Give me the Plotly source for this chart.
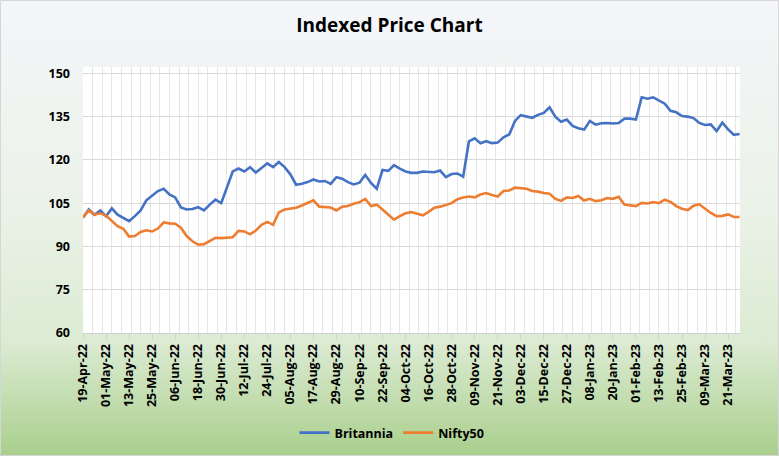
import base64
import pandas as pd
import plotly.graph_objects as go

# Day offsets from 19-Apr-22 (every 3 calendar days) -> dates
start = pd.Timestamp("2022-04-19")
day_offsets = list(range(0, 343, 3))
dates = [start + pd.Timedelta(days=d) for d in day_offsets]

britannia = [
    100.0, 102.8, 101.0, 102.5, 100.5, 103.2, 101.0, 100.0, 98.8, 100.5,
    102.5, 106.0, 107.5, 109.2, 110.0, 108.0, 107.0, 103.5, 102.8, 103.0,
    103.6, 102.5, 104.5, 106.2, 105.0, 110.5, 116.0, 117.0, 116.0, 117.5,
    115.6, 117.2, 118.8, 117.5, 119.3, 117.5, 115.0, 111.4, 111.7, 112.3,
    113.2, 112.5, 112.7, 111.7, 114.0, 113.5, 112.3, 111.5, 112.1, 114.8,
    112.0, 110.0, 116.5, 116.2, 118.2, 117.0, 116.0, 115.5, 115.5, 116.0,
    115.8, 115.7, 116.3, 114.0, 115.1, 115.3, 114.2, 126.4, 127.5, 125.8,
    126.5, 125.8, 126.0, 127.8, 128.8, 133.5, 135.5, 135.0, 134.6, 135.6,
    136.3, 138.2, 135.0, 133.2, 134.0, 131.8, 131.0, 130.5, 133.5, 132.2,
    132.7, 132.8, 132.6, 132.8, 134.3, 134.3, 134.0, 141.7, 141.2, 141.7,
    140.6, 139.5, 137.0, 136.5, 135.2, 135.0, 134.5, 132.8, 132.1, 132.3,
    130.0, 132.9, 130.6, 128.7, 129.0,
]

nifty50 = [
    100.0, 102.5, 101.0, 101.5, 100.7, 99.0, 97.0, 96.1, 93.4, 93.6,
    95.0, 95.6, 95.2, 96.2, 98.3, 98.0, 97.9, 96.5, 93.6, 91.8,
    90.6, 90.8, 92.0, 93.0, 92.9, 93.0, 93.2, 95.4, 95.2, 94.2,
    95.5, 97.5, 98.5, 97.5, 101.8, 102.8, 103.0, 103.4, 104.2, 105.0,
    106.0, 103.8, 103.6, 103.5, 102.5, 103.8, 104.0, 104.8, 105.3, 106.5,
    104.0, 104.5, 102.8, 101.2, 99.3, 100.5, 101.5, 101.9, 101.3, 100.8,
    102.0, 103.4, 103.8, 104.5, 105.0, 106.4, 107.0, 107.3, 107.0, 108.0,
    108.5, 107.8, 107.3, 109.2, 109.4, 110.4, 110.2, 110.0, 109.2, 109.0,
    108.5, 108.3, 106.5, 105.8, 107.0, 106.8, 107.5, 105.9, 106.5, 105.7,
    106.0, 106.8, 106.5, 107.2, 104.5, 104.3, 104.0, 105.1, 104.9, 105.4,
    105.0, 106.2, 105.4, 104.0, 103.1, 102.6, 104.1, 104.6, 103.1, 101.6,
    100.5, 100.6, 101.1, 100.2, 100.2,
]

y_ticks = [60, 75, 90, 105, 120, 135, 150]

W, H = 779, 456
ML, MR, MT, MB = 83, 39, 67, 123
pw, ph = W - ML - MR, H - MT - MB
DAY = 86400000
x_range = [start, start + pd.Timedelta(days=342.2)]

svg = f'''<svg xmlns="http://www.w3.org/2000/svg" width="{W}" height="{H}" preserveAspectRatio="none">
<defs><linearGradient id="g" x1="0" y1="0" x2="0" y2="1">
<stop offset="0" stop-color="#f4f6fa"/>
<stop offset="0.45" stop-color="#ebf2e8"/>
<stop offset="0.75" stop-color="#dcebd3"/>
<stop offset="1" stop-color="#a9cf8c"/>
</linearGradient></defs>
<rect width="{W}" height="{H}" fill="url(#g)"/></svg>'''
src = "data:image/svg+xml;base64," + base64.b64encode(svg.encode()).decode()

font = "Open Sans"

fig = go.Figure()
# empty trace so the gridline axis subplot is created
fig.add_trace(go.Scatter(x=[], y=[], xaxis="x", showlegend=False, hoverinfo="skip"))
fig.add_trace(go.Scatter(x=dates, y=britannia, mode="lines", name="Britannia", xaxis="x2",
                         line=dict(color="#4472C4", width=2.6)))
fig.add_trace(go.Scatter(x=dates, y=nifty50, mode="lines", name="Nifty50", xaxis="x2",
                         line=dict(color="#ED7D31", width=2.6)))

fig.update_layout(
    width=W, height=H,
    margin=dict(l=ML, r=MR, t=MT, b=MB, autoexpand=False),
    paper_bgcolor="rgba(0,0,0,0)",
    plot_bgcolor="white",
    font=dict(family=font, size=12, color="black"),
    title=dict(text="<b>Indexed Price Chart</b>", x=0.5, xref="container", xanchor="center",
               y=1 - 25 / H, yanchor="middle", font=dict(family=font, size=19, color="black")),
    showlegend=True,
    legend=dict(orientation="h", x=(392 - ML) / pw, xanchor="center", y=-100 / ph, yanchor="middle",
                font=dict(family=font, size=12.5, color="black", weight="bold"),
                bgcolor="rgba(0,0,0,0)", itemwidth=30),
    images=[dict(source=src, xref="paper", yref="paper", x=-ML / pw, y=1 + MT / ph,
                 sizex=W / pw, sizey=H / ph, sizing="stretch", layer="below",
                 xanchor="left", yanchor="top")],
    shapes=[
        dict(type="rect", xref="paper", yref="paper", x0=0, x1=1, y0=0, y1=1,
             fillcolor="white", line=dict(width=0), layer="below"),
        dict(type="rect", xref="paper", yref="paper", x0=-ML / pw + 0.5 / pw, x1=1 + MR / pw - 0.5 / pw,
             y0=-MB / ph + 0.5 / ph, y1=1 + MT / ph - 0.5 / ph,
             line=dict(color="#d6d6d6", width=1), fillcolor="rgba(0,0,0,0)", layer="above"),
    ],
    # gridline axis: vertical gridlines every 5 days
    xaxis=dict(
        type="date", automargin=False, range=x_range,
        tick0=start, dtick=5 * DAY,
        showgrid=True, gridcolor="#e6e6e6", gridwidth=1,
        showticklabels=False, ticks="", showline=False, zeroline=False,
    ),
    # labelled axis: ticks every 12 days
    xaxis2=dict(
        type="date", automargin=False, range=x_range, overlaying="x", side="bottom", anchor="y",
        tick0=start, dtick=12 * DAY,
        tickformat="%d-%b-%y", tickangle=-90,
        tickfont=dict(family=font, size=12.5, color="black", weight="bold"),
        showgrid=False,
        showline=True, linecolor="#d0d0d0", linewidth=1,
        ticks="outside", ticklen=5, tickcolor="#d0d0d0",
        zeroline=False,
    ),
    yaxis=dict(
        range=[60, 152.2], tickvals=y_ticks, automargin=False,
        tickfont=dict(family=font, size=12.5, color="black", weight="bold"),
        showgrid=True, gridcolor="#d9d9d9", gridwidth=1,
        zeroline=False, showline=False, ticks="", ticklabelstandoff=12,
    ),
)

fig.write_html("out.html", config={"displayModeBar": False},
               post_script="document.body.style.margin='0';document.body.style.overflow='hidden';")
